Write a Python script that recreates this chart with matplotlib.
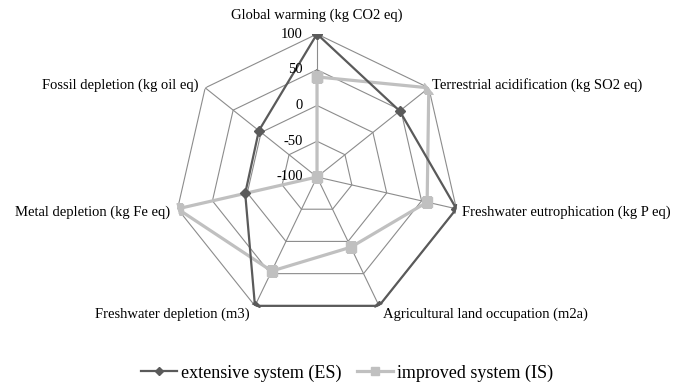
import numpy as np
import matplotlib.pyplot as plt

plt.rcParams['font.family'] = ['Liberation Serif', 'DejaVu Serif']

# Impact categories and normalised scores
categories = ["Global warming (kg CO2 eq)", "Terrestrial acidification (kg SO2 eq)",
              "Freshwater eutrophication (kg P eq)", "Agricultural land occupation (m2a)",
              "Freshwater depletion (m3)", "Metal depletion (kg Fe eq)",
              "Fossil depletion (kg oil eq)"]
es = [100, 48, 100, 100, 100, 3, 4]
isys = [40, 100, 58, 9, 46, 100, -100]
levels = [-100, -50, 0, 50, 100]

n = len(categories)
theta = np.arange(n) * 2 * np.pi / n
theta_c = np.append(theta, theta[0])

fig = plt.figure(figsize=(6.74, 3.84), dpi=100)
W, H = 674, 384
cx, cy, R = 317, 177, 143
ax = fig.add_axes([(cx - R) / W, (H - cy - R) / H, 2 * R / W, 2 * R / H], projection='polar')
ax.set_theta_offset(np.pi / 2)
ax.set_theta_direction(-1)
ax.set_rlim(-100, 100)
ax.grid(False)
ax.spines['polar'].set_visible(False)
ax.set_xticks([])
ax.set_yticks([])
ax.patch.set_alpha(0)

grid_c = '#8c8c8c'
for lv in levels[1:]:
    ax.plot(theta_c, [lv] * (n + 1), color=grid_c, lw=0.8, zorder=1)
for t in theta:
    ax.plot([t, t], [-100, 100], color=grid_c, lw=0.8, zorder=1)

ax.plot(theta_c, es + es[:1], color='#5a5a5a', lw=1.6, marker='D', ms=5,
        label='extensive system (ES)', zorder=3)
ax.plot(theta_c, isys + isys[:1], color='#c0c0c0', lw=2.3, marker='s', ms=7,
        label='improved system (IS)', zorder=2)

for lv in levels:
    ax.annotate(str(lv), xy=(0, lv), xytext=(-14, 0), textcoords='offset pixels',
                ha='right', va='center', fontsize=10.5)

offsets = [(0, 19, 'center'), (3, 3, 'left'), (6, -3, 'left'), (4, -8, 'left'),
           (-5, -8, 'right'), (-7, -3, 'right'), (-7, 3, 'right')]
for t, lab, (dx, dy, ha) in zip(theta, categories, offsets):
    ax.annotate(lab, xy=(t, 100), xytext=(dx, dy), textcoords='offset pixels',
                ha=ha, va='center', fontsize=10.5, annotation_clip=False)

fig.legend(loc='center', bbox_to_anchor=(347 / W, 1 - 373 / H), ncol=2, frameon=False,
           fontsize=13, handlelength=2.0, columnspacing=0.9, handletextpad=0.2,
           markerscale=0.75)

fig.savefig('out.png', dpi=100)
